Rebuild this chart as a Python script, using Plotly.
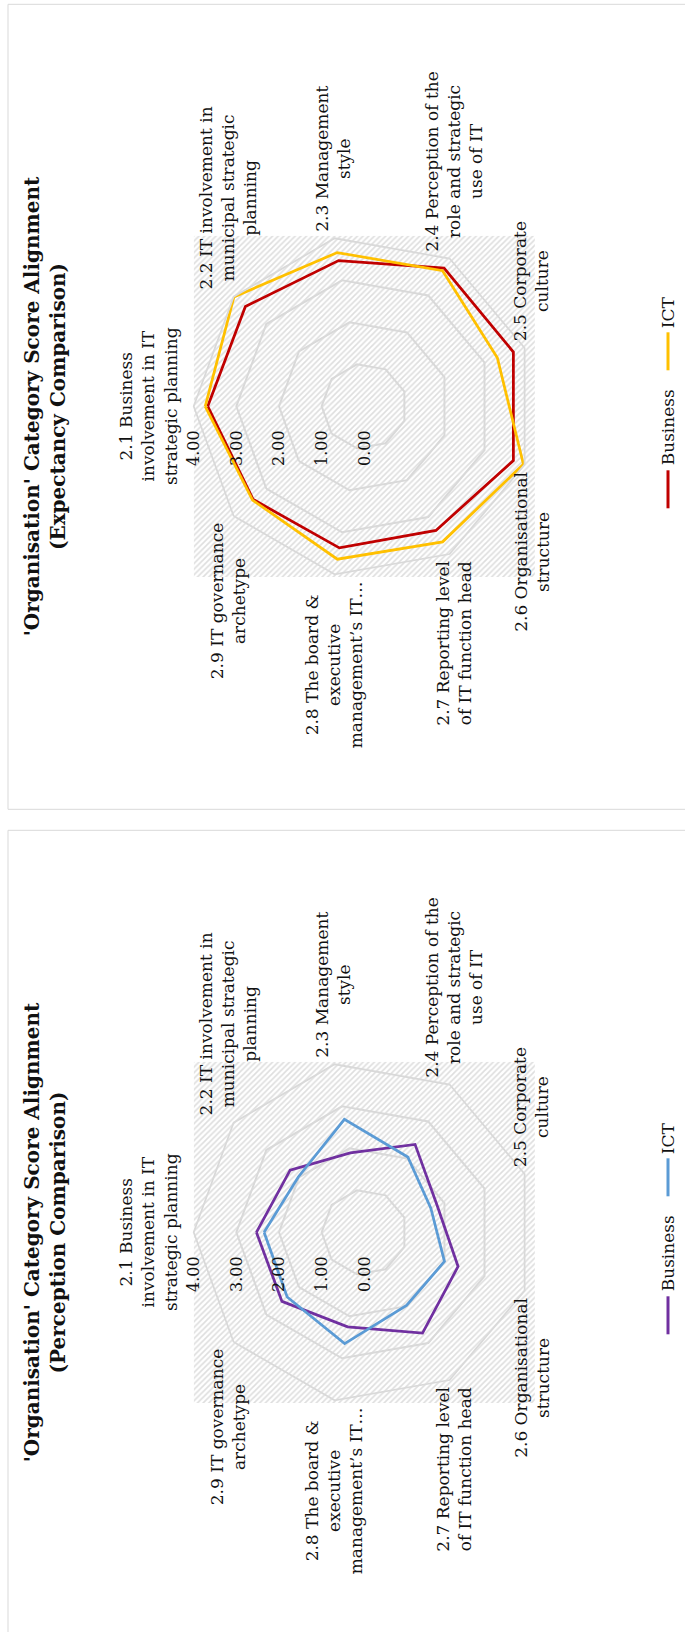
import math
import plotly.graph_objects as go

W, H = 685, 1632

# Category labels (wrapped as they are displayed around the radar)
categories = [
    "2.1 Business<br>involvement in IT<br>strategic planning",
    "2.2 IT involvement in<br>municipal strategic<br>planning",
    "2.3 Management<br>style",
    "2.4 Perception of the<br>role and strategic<br>use of IT",
    "2.5 Corporate<br>culture",
    "2.6 Organisational<br>structure",
    "2.7 Reporting level<br>of IT function head",
    "2.8 The board &amp;<br>executive<br>management’s IT…",
    "2.9 IT governance<br>archetype",
]

series_names = ["Business", "ICT"]

# Expectancy scores
expectancy_business = [3.67, 3.64, 3.47, 3.74, 3.72, 3.72, 3.36, 3.37, 3.40]
expectancy_ict = [3.73, 3.99, 3.66, 3.67, 3.32, 3.97, 3.67, 3.64, 3.42]

# Perception scores
perception_business = [2.53, 2.27, 1.89, 2.38, 1.82, 2.34, 2.73, 2.25, 2.52]
perception_ict = [2.35, 2.02, 2.69, 2.04, 1.66, 2.00, 1.98, 2.65, 2.36]

radial_ticks = [0, 1, 2, 3, 4]

titles = [
    "'Organisation' Category Score Alignment<br>(Expectancy Comparison)",
    "'Organisation' Category Score Alignment<br>(Perception Comparison)",
]

panels = [
    dict(title=titles[0], values=[expectancy_business, expectancy_ict],
         colors=["#C00000", "#FFC000"], cy=406.3),
    dict(title=titles[1], values=[perception_business, perception_ict],
         colors=["#7030A0", "#5B9BD5"], cy=1232.3),
]

# Layout geometry (pixels)
CX = 364.3          # radar centre x
R = 170.6           # radius of the outer ring
ROTATION = 180      # first category points left
N = len(categories)

FONT = "DejaVu Serif"
TEXT_COLOR = "#111111"
GRID = "#d9d9d9"


def px(x):
    return x / W


def py(y):
    return 1 - y / H


fig = go.Figure()
annotations = []
shapes = []
layout_extra = {}

for k, p in enumerate(panels):
    cy = p["cy"]
    polar_name = "polar" if k == 0 else f"polar{k + 1}"
    xa = "xaxis" if k == 0 else f"xaxis{k + 1}"
    ya = "yaxis" if k == 0 else f"yaxis{k + 1}"
    xref = "x" if k == 0 else f"x{k + 1}"
    yref = "y" if k == 0 else f"y{k + 1}"

    dom_x = [px(CX - R), px(CX + R)]
    dom_y = [py(cy + R), py(cy - R)]

    # hatched plot-area background behind the radar
    layout_extra[xa] = dict(domain=dom_x, range=[0, 1], visible=False, fixedrange=True)
    layout_extra[ya] = dict(domain=dom_y, range=[0, 1], visible=False, fixedrange=True)
    fig.add_trace(go.Scatter(
        x=[0, 1, 1, 0, 0], y=[0, 0, 1, 1, 0], xaxis=xref, yaxis=yref,
        mode="none", fill="toself", fillcolor="white",
        fillpattern=dict(shape="/", size=4, solidity=0.4,
                         fgcolor="#bdbdbd", bgcolor="white"),
        hoverinfo="skip", showlegend=False,
    ))

    # radar series
    for name, vals, col in zip(series_names, p["values"], p["colors"]):
        fig.add_trace(go.Scatterpolar(
            r=vals + vals[:1], theta=categories + categories[:1],
            mode="lines", name=name, subplot=polar_name,
            line=dict(color=col, width=2.75),
            showlegend=False,
        ))

    layout_extra[polar_name] = dict(
        domain=dict(x=dom_x, y=dom_y),
        bgcolor="rgba(0,0,0,0)",
        gridshape="linear",
        angularaxis=dict(
            rotation=ROTATION, direction="clockwise",
            showticklabels=False, ticks="", showgrid=False,
            showline=True, linecolor=GRID, linewidth=1.75,
        ),
        radialaxis=dict(
            range=[0, 4], tickvals=radial_ticks, tickformat=".2f",
            angle=180, side="counterclockwise", tickangle=90,
            ticks="outside", ticklen=18, tickcolor="rgba(0,0,0,0)",
            showline=False, gridcolor=GRID, gridwidth=1.75,
            tickfont=dict(family=FONT, size=16, color=TEXT_COLOR),
        ),
    )

    # category labels around the outer ring
    for i, label in enumerate(categories):
        ang = math.radians(ROTATION - i * 360 / N)
        vx = CX + R * math.cos(ang)
        vy = cy - R * math.sin(ang)
        s = math.sin(ang)
        if s > 0.1:
            x, y, xan, yan = vx + 7 * math.cos(ang), vy - 5, "center", "bottom"
        elif s < -0.1:
            x, y, xan, yan = vx + 7 * math.cos(ang), vy + 5, "center", "top"
        else:
            x, y, xan, yan = vx - 11, vy, "right", "middle"
        annotations.append(dict(
            text=label, x=px(x), y=py(y), xref="paper", yref="paper",
            xanchor=xan, yanchor=yan, textangle=-90, showarrow=False,
            align="center", font=dict(family=FONT, size=17, color=TEXT_COLOR),
        ))

    # chart title
    annotations.append(dict(
        text="<b>" + p["title"].replace("<br>", "</b><br><b>") + "</b>",
        x=px(45), y=py(cy), xref="paper", yref="paper",
        xanchor="center", yanchor="middle", textangle=-90, showarrow=False,
        align="center", font=dict(family=FONT, size=20, color=TEXT_COLOR),
    ))

    # legend (drawn vertically, reading bottom to top)
    legend_x = 668
    legend_items = [(series_names[0], p["colors"][0], cy + 102, cy + 64, cy + 21),
                    (series_names[1], p["colors"][1], cy - 36, cy - 74, cy - 94)]
    for name, col, y0, y1, ty in legend_items:
        shapes.append(dict(type="line", xref="paper", yref="paper",
                           x0=px(legend_x), x1=px(legend_x), y0=py(y0), y1=py(y1),
                           line=dict(color=col, width=3)))
        annotations.append(dict(
            text=name, x=px(legend_x), y=py(ty), xref="paper", yref="paper",
            xanchor="center", yanchor="middle", textangle=-90, showarrow=False,
            font=dict(family=FONT, size=17, color=TEXT_COLOR),
        ))

    # chart border
    shapes.append(dict(type="rect", xref="paper", yref="paper", layer="below",
                       x0=px(8), x1=px(700), y0=py(cy + 403), y1=py(cy - 402),
                       line=dict(color=GRID, width=1), fillcolor="rgba(0,0,0,0)"))

fig.update_layout(
    width=W, height=H,
    margin=dict(l=0, r=0, t=0, b=0),
    paper_bgcolor="white", plot_bgcolor="rgba(0,0,0,0)",
    showlegend=False,
    annotations=annotations, shapes=shapes,
    **layout_extra,
)

fig.write_html("out.html")
